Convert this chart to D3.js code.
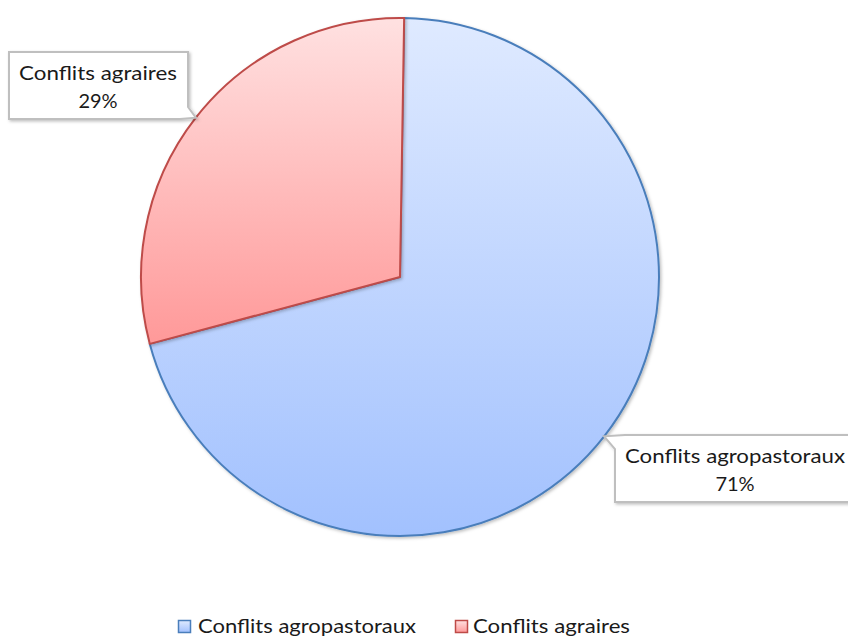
<!DOCTYPE html>
<html><head><meta charset="utf-8">
<script src="https://cdn.jsdelivr.net/npm/d3@7"></script>
<style>body{margin:0;background:#fff}svg{display:block}text{font-family:Lato,"Open Sans",sans-serif;fill:#1a1a1a}</style>
</head><body>
<svg id="c" width="848" height="637"></svg>
<script>
const categories = ["Conflits agropastoraux", "Conflits agraires"];
const values = [12, 5];
const fillTop = ["#dfeaff", "#ffe1e1"];
const fillBottom = ["#a2c1fe", "#ff9999"];
const strokes = ["#4a7ebb", "#be4b48"];

const W = 848, H = 637, cx = 400, cy = 277, R = 259;
const svg = d3.select("#c");
const defs = svg.append("defs");
const f = defs.append("filter").attr("id","sh").attr("x","-10%").attr("y","-10%").attr("width","120%").attr("height","120%");
f.append("feDropShadow").attr("dx",1.5).attr("dy",1.5).attr("stdDeviation",1.5).attr("flood-color","#000").attr("flood-opacity",0.25);
categories.forEach((c,i)=>{
  const g = defs.append("linearGradient").attr("id","g"+i).attr("x1",0).attr("y1",0).attr("x2",0).attr("y2",1);
  g.append("stop").attr("offset","0%").attr("stop-color",fillTop[i]);
  g.append("stop").attr("offset","100%").attr("stop-color",fillBottom[i]);
});
const total = d3.sum(values);
const off = 0.016;
const pie = d3.pie().sort(null).startAngle(off).endAngle(2*Math.PI+off);
const arcs = pie(values);
const arc = d3.arc().innerRadius(0).outerRadius(R);
const gp = svg.append("g").attr("transform",`translate(${cx},${cy})`);
gp.selectAll("path").data(arcs).join("path")
  .attr("d",arc).attr("fill",(d,i)=>`url(#g${i})`)
  .attr("stroke",(d,i)=>strokes[i]).attr("stroke-width",2).attr("stroke-linejoin","round")
  .attr("filter","url(#sh)");

// callout labels
const boxes = [
  {x:615, y:435, w:240, h:67, side:"left", mx:735, tl:220},
  {x:9, y:52, w:179, h:67, side:"right", mx:98, tl:158}
];
arcs.forEach((d,i)=>{
  const a = (d.startAngle+d.endAngle)/2;
  const tx = cx + R*Math.sin(a), ty = cy - R*Math.cos(a);
  const b = boxes[i];
  let p;
  if (b.side==="right") {
    const xr=b.x+b.w, yb=b.y+b.h;
    p = `M${b.x},${b.y}H${xr}V${yb-12}L${tx},${ty}L${xr-8},${yb}H${b.x}Z`;
  } else {
    const yb=b.y+b.h;
    p = `M${b.x+10},${b.y}H${b.x+b.w}V${yb}H${b.x}V${b.y+14}L${tx},${ty}Z`;
  }
  svg.append("path").attr("d",p).attr("fill","#fff").attr("stroke","#bfbfbf").attr("stroke-width",2)
    .attr("stroke-linejoin","miter").attr("filter","url(#sh)");
  svg.append("text").attr("x",b.mx).attr("y",b.y+28).attr("text-anchor","middle").attr("font-size",20)
    .attr("textLength",b.tl).attr("lengthAdjust","spacingAndGlyphs").text(categories[i]);
  svg.append("text").attr("x",b.mx).attr("y",b.y+56).attr("text-anchor","middle").attr("font-size",20)
    .text(Math.round(values[i]/total*100)+"%");
});

// legend
const leg = [{x:178, tx:198, tl:218},{x:455, tx:473, tl:157}];
categories.forEach((c,i)=>{
  svg.append("rect").attr("x",leg[i].x+0.5).attr("y",620.5).attr("width",12).attr("height",12)
    .attr("fill",`url(#g${i})`).attr("stroke",strokes[i]).attr("stroke-width",1.5);
  svg.append("text").attr("x",leg[i].tx).attr("y",633).attr("font-size",20)
    .attr("textLength",leg[i].tl).attr("lengthAdjust","spacingAndGlyphs").text(c);
});
</script>
</body></html>
